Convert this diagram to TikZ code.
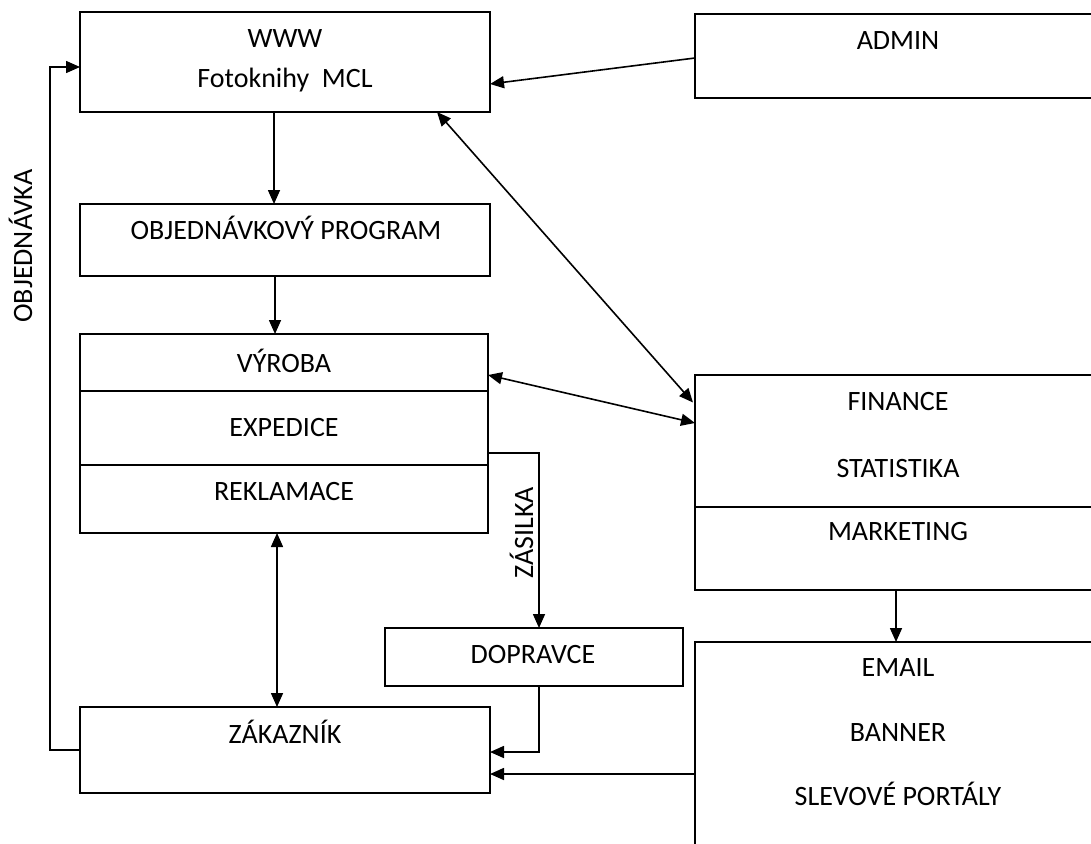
\documentclass[tikz,border=0pt]{standalone}
\usepackage{fontspec}
\setmainfont{Carlito}
\usetikzlibrary{arrows.meta}
\begin{document}
\begin{tikzpicture}[x=1pt,y=-1pt,
  box/.style={draw, line width=1.7pt, inner sep=0pt, outer sep=0pt},
  lbl/.style={anchor=base, inner sep=0pt, font=\fontsize{28}{33}\selectfont},
  conn/.style={line width=1.6pt},
  tip/.tip={Triangle[length=14pt,width=12pt]},
  arr/.style={conn, -tip},
  darr/.style={conn, tip-tip}]
\useasboundingbox (0,0) rectangle (1091,843);
\clip (0,0) rectangle (1091,843);

% left column
\node[box, minimum width=410pt, minimum height=100pt] (www) at (285,62) {};
\node[box, minimum width=410pt, minimum height=72pt] (obj) at (285,240) {};
\node[box, minimum width=408pt, minimum height=199pt] (vyr) at (284,433.5) {};
\node[box, minimum width=410pt, minimum height=86pt] (zak) at (285,750) {};
\node[box, minimum width=298pt, minimum height=58pt] (dop) at (534,657) {};
% right column (runs past the right and bottom edges)
\node[box, minimum width=406pt, minimum height=84pt] (admin) at (898,56) {};
\node[box, minimum width=406pt, minimum height=215pt] (fin) at (898,482.5) {};
\node[box, minimum width=406pt, minimum height=258pt] (email) at (898,771) {};

% dividers inside the split boxes
\draw[line width=1.7pt] ([yshift=-57pt]vyr.north west) -- ([yshift=-57pt]vyr.north east);
\draw[line width=1.7pt] ([yshift=-131pt]vyr.north west) -- ([yshift=-131pt]vyr.north east);
\draw[line width=1.7pt] ([yshift=-132pt]fin.north west) -- ([yshift=-132pt]fin.north east);

% labels
\node[lbl] (twww) at (285,48) {WWW};
\node[lbl] (tfoto) at (285,87) {Fotoknihy\ \ MCL};
\node[lbl] (tobj) at (286,239) {OBJEDNÁVKOVÝ PROGRAM};
\node[lbl] (tvyr) at (284,372) {VÝROBA};
\node[lbl] (texp) at (284,436) {EXPEDICE};
\node[lbl] (trek) at (284,500) {REKLAMACE};
\node[lbl] (tzak) at (285,743) {ZÁKAZNÍK};
\node[lbl] (tdop) at (533,663) {DOPRAVCE};
\node[lbl] (tadm) at (898,49) {ADMIN};
\node[lbl] (tfin) at (898,410) {FINANCE};
\node[lbl] (tsta) at (898,477) {STATISTIKA};
\node[lbl] (tmar) at (898,540) {MARKETING};
\node[lbl] (tema) at (898,676) {EMAIL};
\node[lbl] (tban) at (898,741) {BANNER};
\node[lbl] (tsle) at (898,805) {SLEVOVÉ PORTÁLY};
\node[lbl, rotate=90] (tord) at (32,246) {OBJEDNÁVKA};
\node[lbl, rotate=90] (tzas) at (533,533) {ZÁSILKA};

% connectors
\draw[arr] ([xshift=-11pt]www.south) -- ([xshift=-11pt]obj.north);
\draw[arr] ([xshift=-10pt]obj.south) -- ([xshift=-9pt]vyr.north);
\draw[darr] ([xshift=-7pt]vyr.south) -- ([xshift=-8pt]zak.north);
\draw[arr] (zak.west) -- ++(-30,0) |- ([yshift=-5pt]www.west);
\draw[arr] ([yshift=-2pt]admin.west) -- ([yshift=-22pt]www.east);
\draw[darr] ([xshift=152pt]www.south) -- ([xshift=-2pt,yshift=80pt]fin.west);
\draw[darr] ([yshift=58.5pt]vyr.east) -- ([yshift=59.5pt]fin.west);
\draw[arr] ([yshift=-19.5pt]vyr.east) -| ([xshift=5pt]dop.north);
\draw[arr] ([xshift=5pt]dop.south) |- ([yshift=-2pt]zak.east);
\draw[arr] ([yshift=-3pt]email.west) -- ([yshift=-24pt]zak.east);
\draw[arr] ([xshift=-2pt]fin.south) -- ([xshift=-2pt]email.north);
\end{tikzpicture}
\end{document}
